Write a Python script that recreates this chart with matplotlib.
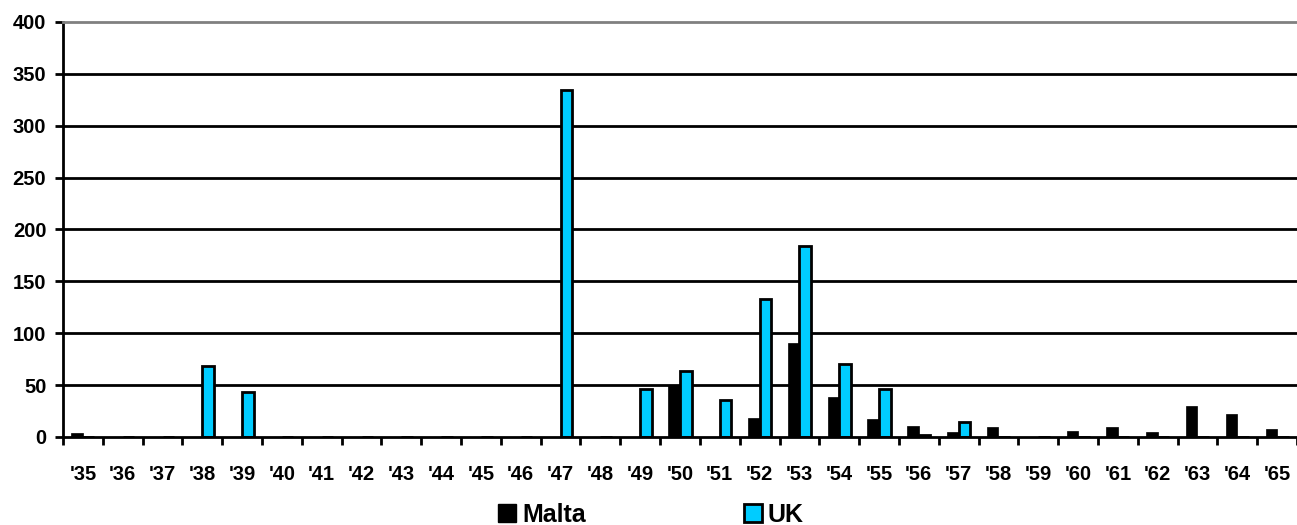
import numpy as np
import matplotlib.pyplot as plt
from matplotlib.patches import Patch

years = ["'35", "'36", "'37", "'38", "'39", "'40", "'41", "'42", "'43", "'44", "'45",
         "'46", "'47", "'48", "'49", "'50", "'51", "'52", "'53", "'54", "'55", "'56",
         "'57", "'58", "'59", "'60", "'61", "'62", "'63", "'64", "'65"]
malta = [4, 0, 0, 0, 0, 0, 0, 0, 0, 0, 0,
         0, 0, 0, 0, 50, 0, 18, 91, 39, 17, 11,
         4.5, 9.5, 0, 6, 9.5, 4.5, 29.5, 22, 7.5]
uk = [0, 0, 0, 68, 43, 0, 0, 0, 0, 0, 0,
      0, 334, 0, 46, 64, 36, 133, 184, 70, 46, 1.5,
      14, 0, 0, 0, 0, 0, 0, 0, 0]

plt.rcParams['font.family'] = ['Liberation Sans', 'DejaVu Sans']
plt.rcParams['font.weight'] = 'bold'

fig = plt.figure(figsize=(12.97, 5.25), dpi=100)
ax = fig.add_axes([63 / 1297, 88 / 525, 1 - 63 / 1297, 415 / 525])

x = np.arange(len(years))
w = 0.29
ax.bar(x - w / 2, malta, w, color='black', edgecolor='black', linewidth=0.5, zorder=3)
ax.bar(x + w / 2, uk, w, color='#00CCFF', edgecolor='black', linewidth=2, zorder=3)

ax.set_xlim(-0.5, len(years) - 0.5)
ax.set_ylim(0, 400)
ax.set_yticks(range(0, 401, 50))
for v in range(50, 400, 50):
    ax.axhline(v, color='black', linewidth=2, zorder=1)

ax.set_xticks(x)
ax.set_xticklabels(years)
ax.set_xticks(np.arange(-0.5, len(years), 1), minor=True)
ax.tick_params(axis='x', which='major', length=0, pad=20, labelsize=14.5)
ax.tick_params(axis='x', which='minor', length=6, width=2, direction='out')
ax.tick_params(axis='y', length=6, width=2, direction='out', labelsize=14.5, pad=6)

ax.spines['right'].set_visible(False)
ax.spines['top'].set_color('#808080')
ax.spines['top'].set_linewidth(2)
ax.spines['left'].set_linewidth(2)
ax.spines['bottom'].set_linewidth(2)
ax.spines['bottom'].set_zorder(4)

handles = [Patch(facecolor='black', edgecolor='black', label='Malta'),
           Patch(facecolor='#00CCFF', edgecolor='black', linewidth=2, label='UK')]
fig.legend(handles=handles, loc='center', bbox_to_anchor=(651 / 1297, 1 - 515 / 525),
           ncol=2, frameon=False, fontsize=18, handlelength=0.72, handleheight=0.72,
           handletextpad=0.25, columnspacing=6.3, borderpad=0)

fig.savefig('out.png', dpi=100)
